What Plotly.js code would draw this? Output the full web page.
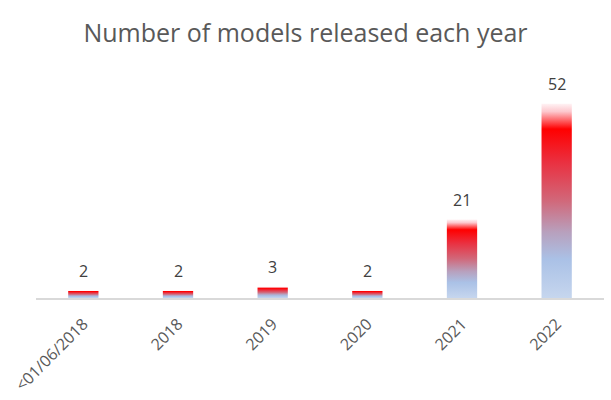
<!DOCTYPE html>
<html>
<head>
<meta charset="utf-8">
<script src="https://cdn.plot.ly/plotly-3.0.1.min.js"></script>
<style>html,body{margin:0;padding:0;background:#fff;}#chart{width:611px;height:400px;}</style>
</head>
<body>
<div id="chart"></div>
<script>
const categories = ["<01/06/2018", "2018", "2019", "2020", "2021", "2022"];
const modelCounts = [2, 2, 3, 2, 21, 52];
const chartTitle = "Number of models released each year";

const trace = {
  type: "bar",
  x: categories,
  y: modelCounts,
  marker: {color: "#e8384a", line: {width: 0}},
  hoverinfo: "x+y"
};

// data labels: x is the category index on the category axis
const labelAnnotations = categories.map((c, i) => ({
  x: i, y: modelCounts[i], xref: "x", yref: "y",
  text: String(modelCounts[i]), showarrow: false,
  yanchor: "bottom", yshift: 7,
  font: {family: "Open Sans, sans-serif", size: 16, color: "#404040"}
}));

const layout = {
  width: 611, height: 400,
  margin: {l: 36, r: 7, t: 74, b: 102},
  paper_bgcolor: "#ffffff", plot_bgcolor: "#ffffff",
  title: {text: chartTitle, x: 0.5, xanchor: "center", y: 0.917, yanchor: "middle",
          font: {family: "Open Sans, sans-serif", size: 25, color: "#595959"}},
  bargap: 0.68,
  showlegend: false,
  annotations: labelAnnotations,
  xaxis: {type: "category", categoryarray: categories, categoryorder: "array",
          range: [-0.5, categories.length - 0.5], autorange: false,
          tickangle: -45, showgrid: false, zeroline: false,
          showline: true, linecolor: "#d9d9d9", linewidth: 1.5,
          ticks: "outside", ticklen: 9, tickcolor: "rgba(0,0,0,0)",
          tickfont: {family: "Open Sans, sans-serif", size: 16, color: "#595959"}},
  yaxis: {range: [0, 60], visible: false, showgrid: false, zeroline: false}
};

function applyGradient(gd) {
  const svg = gd.querySelector("svg.main-svg");
  if (!svg) return;
  const ns = "http://www.w3.org/2000/svg";
  if (!svg.querySelector("#barGrad")) {
    let defs = svg.querySelector("defs");
    if (!defs) { defs = document.createElementNS(ns, "defs"); svg.insertBefore(defs, svg.firstChild); }
    const g = document.createElementNS(ns, "linearGradient");
    g.setAttribute("id", "barGrad");
    g.setAttribute("x1", "0"); g.setAttribute("y1", "0");
    g.setAttribute("x2", "0"); g.setAttribute("y2", "1");
    const stops = [[0, "#fff2f4"], [0.04, "#fdc7cd"], [0.13, "#ff0000"], [0.3, "#ea3040"],
                   [0.5, "#d1687a"], [0.66, "#b8a0bd"], [0.8, "#aac1e6"], [1, "#c6d6ee"]];
    stops.forEach(([o, c]) => {
      const s = document.createElementNS(ns, "stop");
      s.setAttribute("offset", o); s.setAttribute("stop-color", c);
      g.appendChild(s);
    });
    defs.appendChild(g);
  }
  gd.querySelectorAll(".barlayer .point path").forEach(p => { p.style.fill = "url(#barGrad)"; });
}

Plotly.newPlot("chart", [trace], layout, {displayModeBar: false, staticPlot: true}).then(gd => {
  applyGradient(gd);
  gd.on("plotly_afterplot", () => applyGradient(gd));
});
</script>
</body>
</html>
